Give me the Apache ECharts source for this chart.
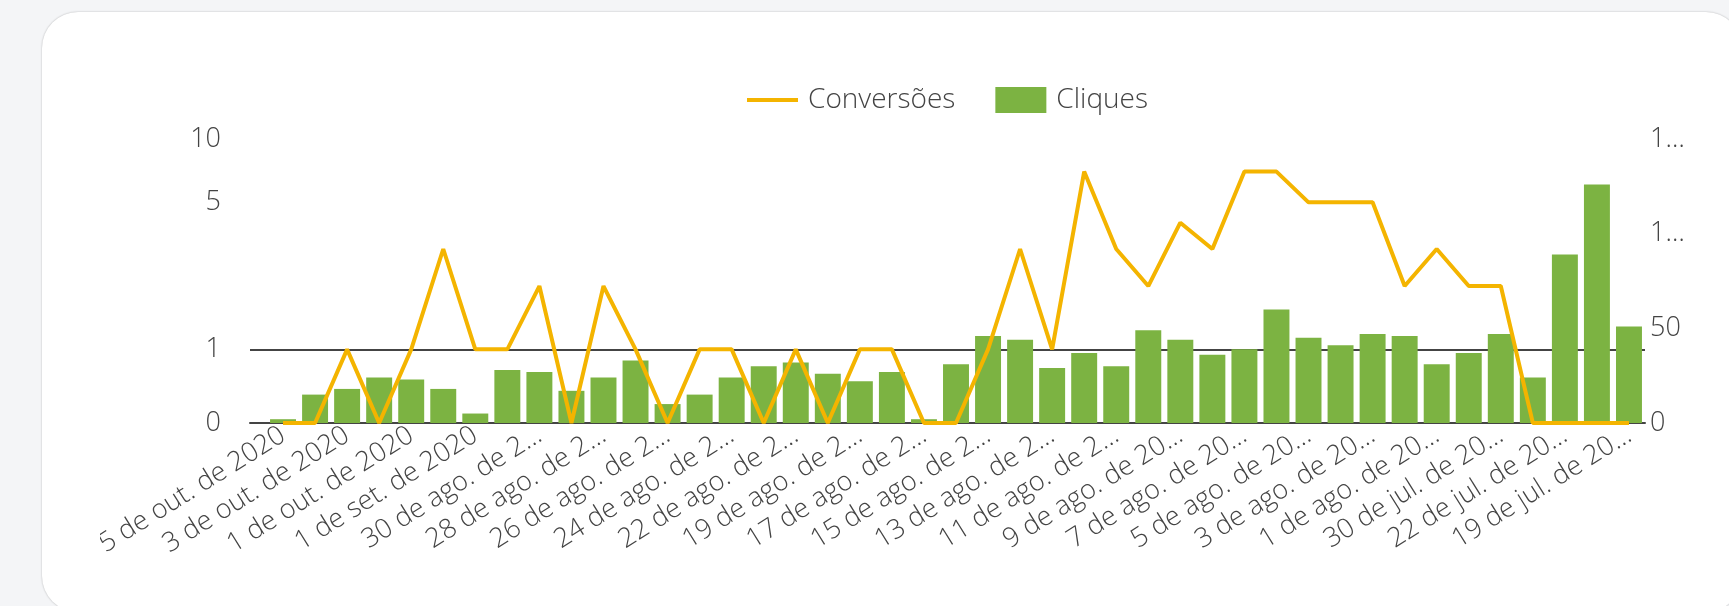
<!DOCTYPE html>
<html>
<head>
<meta charset="utf-8">
<script src="https://cdn.jsdelivr.net/npm/echarts@6/dist/echarts.min.js"></script>
<style>
  html, body { margin: 0; padding: 0; width: 1729px; height: 606px; overflow: hidden; background: #f4f5f7; }
  .card { position: absolute; left: 42px; top: 12px; width: 1700px; height: 600px; border-radius: 36px; background: #fff; box-shadow: 0 0 2px rgba(0, 0, 0, 0.28); }
  #chart { position: absolute; left: 100px; top: 12px; width: 1620px; height: 594px; }
</style>
</head>
<body>
<div class="card"></div>
<div id="chart"></div>
<script>
  // datas (mais recente primeiro)
  const dias = [
    '5 de out. de 2020', '4 de out. de 2020', '3 de out. de 2020', '2 de out. de 2020',
    '1 de out. de 2020', '8 de set. de 2020', '1 de set. de 2020', '31 de ago. de 2020',
    '30 de ago. de 2020', '29 de ago. de 2020', '28 de ago. de 2020', '27 de ago. de 2020',
    '26 de ago. de 2020', '25 de ago. de 2020', '24 de ago. de 2020', '23 de ago. de 2020',
    '22 de ago. de 2020', '20 de ago. de 2020', '19 de ago. de 2020', '18 de ago. de 2020',
    '17 de ago. de 2020', '16 de ago. de 2020', '15 de ago. de 2020', '14 de ago. de 2020',
    '13 de ago. de 2020', '12 de ago. de 2020', '11 de ago. de 2020', '10 de ago. de 2020',
    '9 de ago. de 2020', '8 de ago. de 2020', '7 de ago. de 2020', '6 de ago. de 2020',
    '5 de ago. de 2020', '4 de ago. de 2020', '3 de ago. de 2020', '2 de ago. de 2020',
    '1 de ago. de 2020', '31 de jul. de 2020', '30 de jul. de 2020', '27 de jul. de 2020',
    '22 de jul. de 2020', '21 de jul. de 2020', '19 de jul. de 2020'
  ]
  const conversoes = [
    0, 0, 1, 0, 1, 3, 1, 1, 2, 0, 2, 1, 0, 1, 1, 0, 1, 0, 1, 1, 0, 0,
    1, 3, 1, 7, 3, 2, 4, 3, 7, 7, 5, 5, 5, 2, 3, 2, 2, 0, 0, 0, 0
  ]
  const cliques = [
    2, 15, 18, 24, 23, 18, 5, 28, 27, 17, 24, 33, 10, 15, 24, 30, 32, 26, 22, 27, 2, 31,
    46, 44, 29, 37, 30, 49, 44, 36, 39, 60, 45, 41, 47, 46, 31, 37, 47, 24, 89, 126, 51
  ]
  const ticksConversoes = [0, 1, 5, 10]
  const ticksCliques = [0, 50, 100, 150]

  // eixo log: o zero fica abaixo do 1
  const LOG_ZERO = -0.35
  const toLog = v => v > 0 ? Math.log10(v) : LOG_ZERO

  const texto = '#444'
  const linha = '#444'
  const fonte = 'Open Sans'
  const tamRotulo = 27

  // largura maxima do rotulo de data (cabe "1 de out. de 2020", o resto corta)
  let ctx = document.createElement('canvas').getContext('2d')
  ctx.font = '300 ' + tamRotulo + 'px "' + fonte + '"'
  const larguraRotulo = Math.ceil(ctx.measureText('1 de out. de 2020').width) + 1

  let myChart = echarts.init(document.getElementById('chart'))
  let option = {
    animation: false,
    textStyle: { fontFamily: fonte },
    legend: {
      left: 642,
      top: 69,
      itemWidth: 51,
      itemHeight: 26,
      itemGap: 40,
      textStyle: { fontSize: 28, color: texto, fontFamily: fonte, fontWeight: 300, padding: [0, 0, 0, 5] },
      data: [
        // so a linha, sem o circulo
        { name: 'Conversões', icon: 'path://M0,0H51V4H0Z' },
        { name: 'Cliques', icon: 'rect' }
      ]
    },
    // grid 0: dados; grid 1: so as linhas de base, um pouco mais largas
    grid: [
      { left: 167, top: 127, width: 1378, height: 284, outerBoundsMode: 'none' },
      { left: 150, top: 127, width: 1395, height: 284, outerBoundsMode: 'none' }
    ],
    xAxis: [
      {
        type: 'category',
        gridIndex: 0,
        data: dias,
        axisTick: { show: false },
        axisLine: { show: false },
        axisLabel: {
          interval: 1,
          rotate: 32,
          margin: 10,
          fontSize: tamRotulo,
          fontWeight: 300,
          color: texto,
          width: larguraRotulo,
          overflow: 'truncate',
          ellipsis: '…'
        }
      },
      {
        type: 'value',
        gridIndex: 1,
        min: 0,
        max: 1,
        axisLine: { show: true, onZero: false, lineStyle: { color: linha, width: 2 } },
        axisTick: { show: false },
        axisLabel: { show: false },
        splitLine: { show: false }
      }
    ],
    yAxis: [
      {
        type: 'value',
        gridIndex: 0,
        min: LOG_ZERO,
        max: Math.log10(10),
        axisLine: { show: false },
        axisTick: { show: false },
        splitLine: { show: false },
        axisLabel: {
          margin: 46,
          fontSize: 27,
          fontWeight: 300,
          color: texto,
          customValues: ticksConversoes.map(toLog),
          formatter: function (v) {
            return v <= LOG_ZERO + 1e-6 ? '0' : String(Math.round(Math.pow(10, v)))
          }
        }
      },
      {
        type: 'value',
        gridIndex: 0,
        position: 'right',
        min: ticksCliques[0],
        max: ticksCliques[ticksCliques.length - 1],
        interval: 50,
        axisLine: { show: false },
        axisTick: { show: false },
        splitLine: { show: false },
        axisLabel: {
          margin: 5,
          fontSize: 27,
          fontWeight: 300,
          color: texto,
          // o Data Studio corta rótulos longos
          formatter: function (v) {
            let s = String(v)
            return s.length > 2 ? s.slice(0, 1) + '…' : s
          }
        }
      },
      {
        // mesma escala do eixo esquerdo, so para a linha do 1
        type: 'value',
        gridIndex: 1,
        min: LOG_ZERO,
        max: Math.log10(10),
        axisLine: { show: false },
        axisLabel: { show: false },
        axisTick: { show: false, customValues: [toLog(1)] },
        splitLine: { show: true, lineStyle: { color: linha, width: 2 } }
      }
    ],
    series: [
      {
        name: 'Cliques',
        type: 'bar',
        xAxisIndex: 0,
        yAxisIndex: 1,
        data: cliques,
        barCategoryGap: '19%',
        itemStyle: { color: '#7cb342' },
        z: 3
      },
      {
        name: 'Conversões',
        type: 'line',
        xAxisIndex: 0,
        yAxisIndex: 0,
        data: conversoes.map(toLog),
        symbol: 'none',
        itemStyle: { color: '#f4b400' },
        lineStyle: { color: '#f4b400', width: 4 },
        z: 5
      }
    ]
  }
  myChart.setOption(option)
</script>
</body>
</html>
